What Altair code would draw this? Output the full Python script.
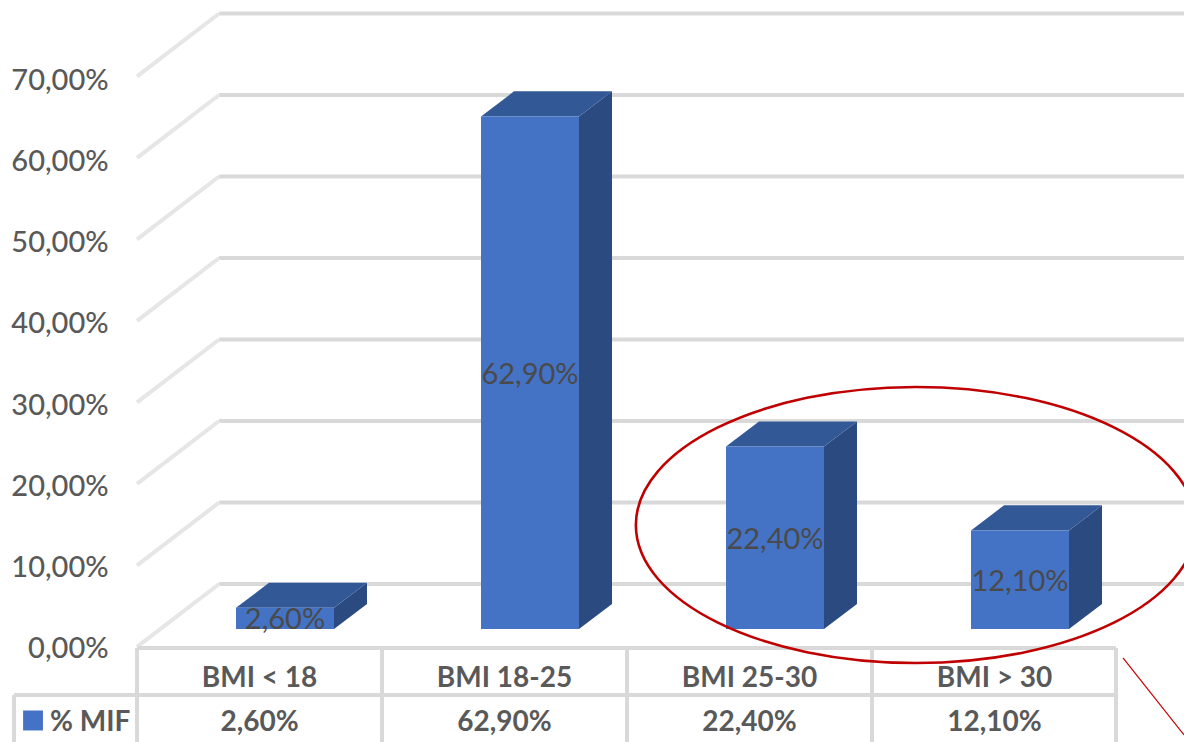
import altair as alt
import pandas as pd

# Chart values
categories = ["BMI < 18", "BMI 18-25", "BMI 25-30", "BMI > 30"]
mif_values = [2.6, 62.9, 22.4, 12.1]
axis_ticks = [0, 10, 20, 30, 40, 50, 60, 70]
series_name = "% MIF"

# Scale extents: x in category positions, y in percent on the plane of the bar fronts
X_DOMAIN = [-1.1633, 3.6694]
Y_DOMAIN = [-13.865, 77.18]

# Pseudo-3D geometry, in data units
HALF_BAR = 0.2
BAR_DX, BAR_DY = 0.1347, 3.07
WALL_FRONT_X, WALL_BACK_X = -0.604, -0.269
WALL_FRONT_DY, WALL_BACK_DY = -2.2, 5.52
COLUMN_EDGES = [-0.604, 0.396, 1.396, 2.396, 3.392]
ROW_EDGES = [-2.33, -8.1, -13.865]
TABLE_LEFT = -1.106
ELLIPSE_X, ELLIPSE_Y = 2.575, 12.76

BAR_FRONT = "#4472C4"
BAR_TOP = "#325896"
BAR_SIDE = "#2B4A80"
GRID = "#D9D9D9"
TEXT = "#595959"
ANNOTATION = "#C00000"
FONT = "Lato"


def pct(v, digits=2):
    return f"{v:.{digits}f}%".replace(".", ",")


xs = alt.Scale(domain=X_DOMAIN, nice=False, zero=False)
ys = alt.Scale(domain=Y_DOMAIN, nice=False, zero=False)


def X(field="x"):
    return alt.X(f"{field}:Q", scale=xs, axis=None)


def Y(field="y"):
    return alt.Y(f"{field}:Q", scale=ys, axis=None)


def segments(rows, color, width):
    df = pd.DataFrame(rows, columns=["x", "y", "x2", "y2"])
    return alt.Chart(df).mark_rule(color=color, strokeWidth=width).encode(
        x=X(), y=Y(), x2="x2:Q", y2="y2:Q"
    )


def labels(rows, size, color=TEXT, align="center", weight=500):
    df = pd.DataFrame(rows, columns=["x", "y", "label"])
    return alt.Chart(df).mark_text(
        font=FONT, fontSize=size, color=color, align=align,
        baseline="middle", fontWeight=weight
    ).encode(x=X(), y=Y(), text="label:N")


# Back wall and side wall gridlines
back_grid = segments(
    [[WALL_BACK_X, t + WALL_BACK_DY, X_DOMAIN[1], t + WALL_BACK_DY] for t in axis_ticks],
    GRID, 4,
)
side_grid = segments(
    [[WALL_FRONT_X, t + WALL_FRONT_DY, WALL_BACK_X, t + WALL_BACK_DY] for t in axis_ticks],
    "#E6E6E6", 4,
)

# Bar faces
front_df = pd.DataFrame({
    "x": [i - HALF_BAR for i in range(len(mif_values))],
    "x2": [i + HALF_BAR for i in range(len(mif_values))],
    "y": mif_values,
    "y2": [0] * len(mif_values),
})
fronts = alt.Chart(front_df).mark_rect(color=BAR_FRONT).encode(
    x=X(), x2="x2:Q", y=Y(), y2="y2:Q"
)

side_rows, top_rows = [], []
for i, v in enumerate(mif_values):
    xl, xr = i - HALF_BAR, i + HALF_BAR
    side_rows += [
        {"bar": i, "x": xr, "y": v, "y2": 0},
        {"bar": i, "x": xr + BAR_DX, "y": v + BAR_DY, "y2": BAR_DY},
    ]
    top_rows += [
        {"bar": i, "x": xl, "y": v, "y2": v},
        {"bar": i, "x": xl + BAR_DX, "y": v + BAR_DY, "y2": v},
        {"bar": i, "x": xr, "y": v + BAR_DY, "y2": v},
        {"bar": i, "x": xr + BAR_DX, "y": v + BAR_DY, "y2": v + BAR_DY},
    ]


def face(rows, color):
    return alt.Chart(pd.DataFrame(rows)).mark_area(color=color, interpolate="linear").encode(
        x=X(), y=Y(), y2="y2:Q", detail="bar:N"
    )


sides = face(side_rows, BAR_SIDE)
tops = face(top_rows, BAR_TOP)

bar_labels = labels(
    [[i, v / 2 - 0.25, pct(v)] for i, v in enumerate(mif_values)], 29, "#4A4A4A", weight=400
)

# Percent labels along the front edge of the side wall
tick_labels = labels(
    [[-0.72, t * 0.9956 - 2.45, pct(t)] for t in axis_ticks], 29, align="right"
)

# Data table beneath the plot
table_lines = segments(
    [[COLUMN_EDGES[0], ROW_EDGES[0], COLUMN_EDGES[-1], ROW_EDGES[0]],
     [TABLE_LEFT, ROW_EDGES[1], COLUMN_EDGES[-1], ROW_EDGES[1]],
     [TABLE_LEFT, ROW_EDGES[1], TABLE_LEFT, ROW_EDGES[2]]]
    + [[c, ROW_EDGES[0], c, ROW_EDGES[2]] for c in COLUMN_EDGES],
    GRID, 4,
)
category_labels = labels(
    [[i - 0.104, (ROW_EDGES[0] + ROW_EDGES[1]) / 2 - 0.95, c] for i, c in enumerate(categories)],
    28, weight=700,
)
value_labels = labels(
    [[i - 0.104, (ROW_EDGES[1] + ROW_EDGES[2]) / 2 - 0.55, pct(v)] for i, v in enumerate(mif_values)],
    28, weight=700,
)
series_label = labels([[-0.959, (ROW_EDGES[1] + ROW_EDGES[2]) / 2 - 0.55, series_name]], 28,
                      align="left", weight=700)
swatch = alt.Chart(pd.DataFrame({"x": [-1.069], "x2": [-0.988], "y": [-10.0], "y2": [-12.45]})).mark_rect(
    color=BAR_FRONT
).encode(x=X(), x2="x2:Q", y=Y(), y2="y2:Q")

# Red annotation: ellipse around the two overweight groups and a leader line
ellipse = alt.Chart(pd.DataFrame({"x": [ELLIPSE_X], "y": [ELLIPSE_Y]})).mark_point(
    shape="M-1,0 A1,0.4929 0 1 1 1,0 A1,0.4929 0 1 1 -1,0 Z",
    size=313600, filled=False, stroke=ANNOTATION, strokeWidth=2.6, opacity=1,
).encode(x=X(), y=Y())
leader = segments([[3.4204, -3.55, X_DOMAIN[1], -13.0]], ANNOTATION, 1.2)

chart = alt.layer(
    back_grid, side_grid, sides, tops, fronts, bar_labels, tick_labels,
    table_lines, category_labels, value_labels, series_label, swatch, ellipse, leader,
).properties(
    width=1184, height=742, padding=0,
    autosize=alt.AutoSizeParams(type="none"),
    background="white",
).configure_view(stroke=None)

chart.save("out.html", embed_options={"renderer": "svg", "actions": False})
